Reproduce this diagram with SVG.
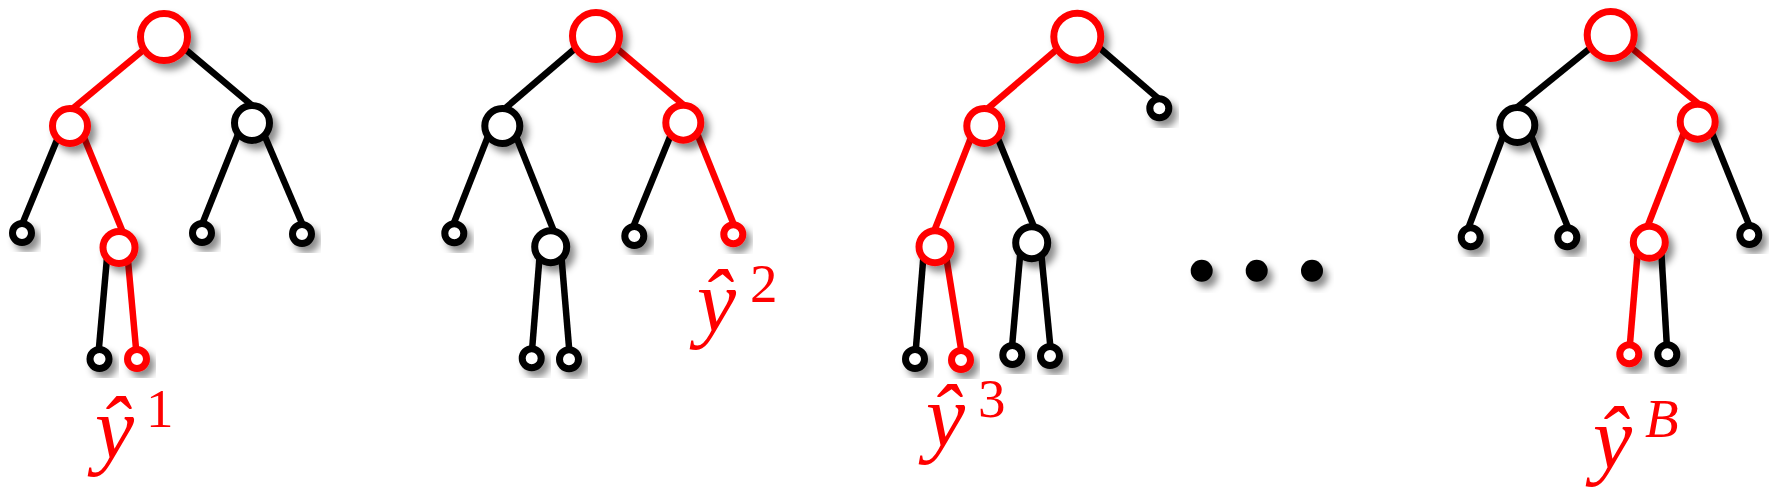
<svg xmlns="http://www.w3.org/2000/svg" width="1792" height="489" viewBox="0 0 1792 489">
<defs>
<filter id="sh" x="-50%" y="-50%" width="200%" height="200%">
<feDropShadow dx="5" dy="6" stdDeviation="3.5" flood-color="#000" flood-opacity="0.45"/>
</filter>
<style>
.e{stroke-width:6.5;fill:none;stroke-linecap:butt}
.k{stroke:#000}
.r{stroke:#f00}
circle{fill:#fff;stroke-width:7;filter:url(#sh)}
.nk circle{stroke:#000}
.nr circle{stroke:#f00}
.dot{fill:#000;stroke:none}
.lab{font-family:"Liberation Serif","DejaVu Serif",serif;fill:#f00}
.y{font-style:italic;font-size:88px}
.sup{font-size:55px}
</style>
</defs>
<rect width="1792" height="489" fill="#fff"/>
<g id="connectors">
<!-- tree 1 -->
<line class="e r" x1="147" y1="47" x2="71" y2="110"/>
<line class="e k" x1="179" y1="44" x2="254" y2="107"/>
<line class="e k" x1="59" y1="135" x2="21" y2="227"/>
<line class="e r" x1="83" y1="135" x2="124" y2="235"/>
<line class="e k" x1="239" y1="132" x2="201" y2="227"/>
<line class="e k" x1="263" y1="132" x2="304" y2="228"/>
<line class="e k" x1="107.5" y1="252" x2="98.5" y2="353"/>
<line class="e r" x1="127.5" y1="255" x2="136.5" y2="354"/>
<!-- tree 2 -->
<line class="e k" x1="578" y1="46" x2="502" y2="111"/>
<line class="e r" x1="614" y1="46" x2="686" y2="107"/>
<line class="e k" x1="488.5" y1="135" x2="452.5" y2="226.5"/>
<line class="e k" x1="515.5" y1="135" x2="555" y2="234"/>
<line class="e k" x1="672" y1="132" x2="632.5" y2="228.5"/>
<line class="e r" x1="696.5" y1="132" x2="735" y2="227.5"/>
<line class="e k" x1="539.7" y1="255" x2="531.9" y2="351.7"/>
<line class="e k" x1="561.3" y1="255" x2="569.4" y2="351.7"/>
<!-- tree 3 -->
<line class="e r" x1="1062" y1="45" x2="986" y2="110"/>
<line class="e k" x1="1094.5" y1="43.5" x2="1160" y2="100"/>
<line class="e r" x1="972" y1="135" x2="933" y2="234"/>
<line class="e k" x1="996.5" y1="135" x2="1034.5" y2="228"/>
<line class="e k" x1="923.7" y1="253" x2="915.6" y2="352"/>
<line class="e r" x1="945.9" y1="255" x2="961.5" y2="352"/>
<line class="e k" x1="1020.4" y1="252" x2="1011.9" y2="348"/>
<line class="e k" x1="1041.2" y1="253" x2="1050.5" y2="348"/>
<!-- tree 4 -->
<line class="e k" x1="1594" y1="45" x2="1515" y2="109"/>
<line class="e r" x1="1628" y1="45" x2="1700" y2="105"/>
<line class="e k" x1="1503.5" y1="135" x2="1468" y2="229"/>
<line class="e k" x1="1530.8" y1="135" x2="1568.6" y2="229"/>
<line class="e r" x1="1685" y1="130" x2="1646.5" y2="229"/>
<line class="e k" x1="1710.8" y1="130" x2="1750.2" y2="227.5"/>
<line class="e r" x1="1637.7" y1="252" x2="1629.6" y2="348"/>
<line class="e k" x1="1661.4" y1="253" x2="1667" y2="348"/>
</g>
<g id="tree1">
<g id="t1-root" class="nr"><circle cx="164" cy="37" r="23.5"/></g>
<g id="t1-a" class="nr"><circle cx="70" cy="126" r="17.5"/></g>
<g id="t1-b" class="nk"><circle cx="252" cy="123" r="17.5"/></g>
<g id="t1-l1" class="nk"><circle cx="22" cy="233" r="9.5"/></g>
<g id="t1-m" class="nr"><circle cx="119" cy="247.5" r="16"/></g>
<g id="t1-l2" class="nk"><circle cx="202" cy="233" r="9.5"/></g>
<g id="t1-l3" class="nk"><circle cx="302" cy="234" r="9.5"/></g>
<g id="t1-l4" class="nk"><circle cx="99.5" cy="359" r="9.5"/></g>
<g id="t1-l5" class="nr"><circle cx="137" cy="359" r="9.5"/></g>
</g>
<g id="tree2">
<g id="t2-root" class="nr"><circle cx="596" cy="36" r="23.5"/></g>
<g id="t2-a" class="nk"><circle cx="502.3" cy="126" r="17.5"/></g>
<g id="t2-b" class="nr"><circle cx="683.3" cy="122.7" r="17.5"/></g>
<g id="t2-l1" class="nk"><circle cx="454.3" cy="233.3" r="9.5"/></g>
<g id="t2-m" class="nk"><circle cx="550.7" cy="246.7" r="16"/></g>
<g id="t2-l2" class="nk"><circle cx="634.3" cy="236" r="9.5"/></g>
<g id="t2-l3" class="nr"><circle cx="733.3" cy="234.3" r="9.5"/></g>
<g id="t2-l4" class="nk"><circle cx="531.7" cy="358.3" r="9.5"/></g>
<g id="t2-l5" class="nk"><circle cx="569" cy="359.3" r="9.5"/></g>
</g>
<g id="tree3">
<g id="t3-root" class="nr"><circle cx="1077.3" cy="36.7" r="23.5"/></g>
<g id="t3-a" class="nr"><circle cx="984.3" cy="126" r="17.5"/></g>
<g id="t3-l0" class="nk"><circle cx="1159.3" cy="108.3" r="9.5"/></g>
<g id="t3-m1" class="nr"><circle cx="935" cy="246.7" r="16"/></g>
<g id="t3-m2" class="nk"><circle cx="1031.7" cy="242.7" r="16"/></g>
<g id="t3-l1" class="nk"><circle cx="915" cy="359" r="9.5"/></g>
<g id="t3-l2" class="nr"><circle cx="961" cy="360" r="9.5"/></g>
<g id="t3-l3" class="nk"><circle cx="1012.3" cy="355" r="9.5"/></g>
<g id="t3-l4" class="nk"><circle cx="1050" cy="356" r="9.5"/></g>
</g>
<g id="ellipsis">
<circle class="dot" cx="1201.7" cy="270.7" r="11"/>
<circle class="dot" cx="1256.7" cy="270.7" r="11"/>
<circle class="dot" cx="1312" cy="270.7" r="11"/>
</g>
<g id="tree4">
<g id="t4-root" class="nr"><circle cx="1610.7" cy="35" r="23.5"/></g>
<g id="t4-a" class="nk"><circle cx="1517.3" cy="125" r="17.5"/></g>
<g id="t4-b" class="nr"><circle cx="1697.7" cy="121.7" r="17.5"/></g>
<g id="t4-l1" class="nk"><circle cx="1470.7" cy="237.3" r="9.5"/></g>
<g id="t4-l2" class="nk"><circle cx="1567.3" cy="237.3" r="9.5"/></g>
<g id="t4-m" class="nr"><circle cx="1649.3" cy="242.3" r="16"/></g>
<g id="t4-l3" class="nk"><circle cx="1749.3" cy="235" r="9.5"/></g>
<g id="t4-l4" class="nr"><circle cx="1629.3" cy="354.3" r="9.5"/></g>
<g id="t4-l5" class="nk"><circle cx="1667.3" cy="354.3" r="9.5"/></g>
</g>
<g id="labels">
<text class="lab"><tspan class="y" x="95" y="458">ŷ</tspan><tspan class="sup" x="146" y="427">1</tspan></text>
<text class="lab"><tspan class="y" x="697" y="331">ŷ</tspan><tspan class="sup" x="750" y="302">2</tspan></text>
<text class="lab"><tspan class="y" x="926" y="446">ŷ</tspan><tspan class="sup" x="978" y="417">3</tspan></text>
<text class="lab"><tspan class="y" x="1593" y="468">ŷ</tspan><tspan class="sup" x="1645" y="437" font-style="italic">B</tspan></text>
</g>
</svg>
